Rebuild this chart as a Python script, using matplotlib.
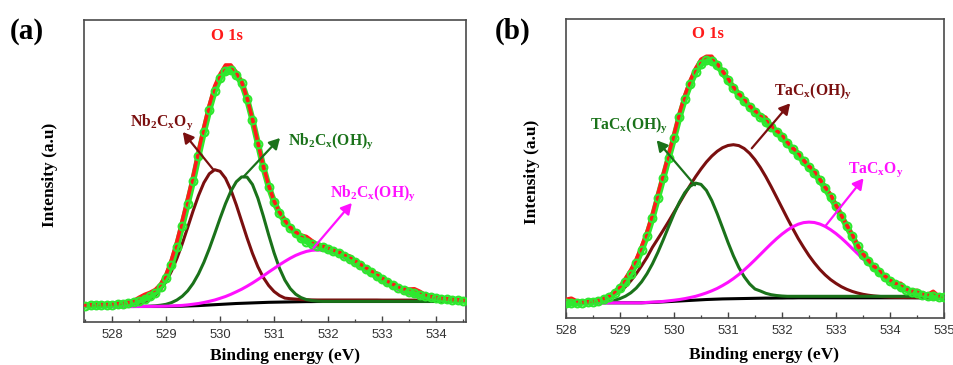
import numpy as np
import matplotlib
matplotlib.use("Agg")
import matplotlib.pyplot as plt
from matplotlib.ticker import MultipleLocator

plt.rcParams["font.family"] = ["Liberation Serif", "DejaVu Serif"]
plt.rcParams["mathtext.fontset"] = "custom"
plt.rcParams["mathtext.rm"] = "Liberation Serif"
plt.rcParams["mathtext.bf"] = "Liberation Serif:bold"
plt.rcParams["mathtext.it"] = "Liberation Serif:italic"

# ---- panel (a): Nb2C, O 1s ----
energy_a = np.round(np.arange(527.5, 534.51, 0.1), 1)

bg_a = [15.5] * 16 + [
    15.6, 15.7, 15.8, 16.0, 16.2, 16.4, 16.7, 17.0, 17.3, 17.6, 17.9, 18.2, 18.5, 18.7,
    18.9, 19.1, 19.3, 19.5, 19.7, 19.8, 19.9, 20.0, 20.1, 20.2, 20.3, 20.4, 20.4] + [20.5] * 28

nb_oxide_a = [
    15.5, 15.5, 15.5, 15.5, 15.5, 15.6, 15.7, 15.9, 16.2, 16.8,
    17.9, 19.7, 22.4, 26.5, 32.4, 40.4, 50.8, 63.6, 78.4, 94.6,
    111.1, 126.4, 139.3, 148.2, 152.3, 150.7, 143.7, 132.1, 117.2, 100.6,
    84.0, 68.6, 55.3, 44.6, 36.5, 30.5, 26.5, 23.9, 23.3, 22.9,
    22.4, 22.2, 22.1] + [22.0] * 12 + [21.9] * 10 + [21.8] * 6

nb_hydrox1_a = [15.5] * 10 + [
    15.6, 15.7, 15.9, 16.2, 16.8, 17.7, 19.4, 22.0, 25.8, 31.2,
    38.6, 48.1, 59.7, 73.3, 88.3, 103.7, 118.3, 130.8, 140.2, 145.1,
    144.9, 137.5, 123.8, 106.1, 87.1, 69.2, 53.8, 41.9, 33.4, 27.8,
    24.4, 22.4, 21.4, 20.9] + [20.6] * 27

nb_hydrox2_a = [15.5] * 10 + [
    15.5, 15.6, 15.6, 15.7, 15.7, 15.8, 16.0, 16.3, 16.6, 17.1,
    17.8, 18.5, 19.5, 20.7, 22.0, 23.7, 25.5, 27.7, 30.2, 32.8,
    35.8, 39.0, 42.5, 46.1, 49.9, 53.5, 57.2, 60.6, 63.8, 66.6,
    68.8, 70.6, 71.7, 72.0, 71.7, 70.7, 69.0, 66.9, 64.2, 61.1,
    57.8, 54.2, 50.7, 47.1, 43.7, 40.4, 37.4, 34.6, 32.2, 30.0,
    28.1, 26.6, 25.2, 24.2, 23.3, 22.6, 22.1, 21.6, 21.3, 21.1, 20.9]

fit_a = [
    16.5, 16.6, 16.7, 16.9, 17.1, 17.4, 17.8, 18.3, 19.0, 19.9,
    21.2, 23.0, 25.6, 29.5, 35.5, 44.5, 57.5, 75.5, 96.5, 118.5,
    141.0, 166.0, 190.0, 212.0, 231.0, 244.0, 251.0, 252.0, 247.0, 239.0,
    223.0, 202.0, 178.5, 155.0, 135.5, 120.0, 109.0, 100.5, 94.0, 89.0,
    84.0, 80.5, 78.0, 76.5, 75.0, 73.0, 71.0, 69.0, 66.5, 63.5,
    60.3, 57.0, 53.5, 50.0, 46.5, 43.0, 40.0, 37.0, 34.5, 32.3,
    30.4, 28.7, 27.2, 26.0, 25.0, 24.0, 23.2, 22.6, 22.0, 21.6, 21.3]

raw_a = [
    17.0, 17.1, 17.2, 17.4, 17.6, 17.9, 18.3, 18.8, 19.5, 21.4,
    24.7, 27.5, 29.6, 32.5, 38.0, 47.5, 62.5, 80.5, 101.5, 123.5,
    146.0, 171.0, 195.0, 217.0, 236.0, 248.0, 257.0, 257.0, 250.0, 240.0,
    224.0, 203.0, 179.5, 156.0, 136.5, 121.0, 110.0, 101.5, 95.0, 90.0,
    87.0, 85.5, 81.5, 77.5, 76.0, 74.0, 72.0, 70.0, 67.5, 66.0,
    61.3, 58.0, 54.5, 51.0, 49.0, 44.0, 41.0, 38.0, 35.5, 33.3,
    32.9, 33.2, 30.7, 27.5, 25.5, 24.5, 23.7, 23.1, 22.5, 22.1, 21.8]

# ---- panel (b): TaC, O 1s ----
energy_b = np.round(np.arange(528.0, 535.01, 0.1), 1)

bg_b = [15.5] * 15 + [
    15.7, 15.9, 16.1, 16.4, 16.7, 17.0, 17.3, 17.6, 17.9, 18.2,
    18.5, 18.8, 19.0, 19.2, 19.4, 19.5, 19.6, 19.7, 19.8, 19.9,
    20.0, 20.1, 20.2, 20.2, 20.3, 20.3, 20.4, 20.4, 20.5] + [20.5] * 27

ta_hydrox1_b = [15.5] * 5 + [
    15.8, 16.0, 16.4, 17.0, 18.1, 19.7, 22.1, 25.5, 30.2, 36.5,
    44.6, 54.4, 65.8, 78.4, 91.6, 104.4, 116.1, 125.6, 132.1, 135.2,
    133.9, 127.9, 117.7, 104.7, 90.4, 75.9, 62.5, 50.9, 41.6, 34.4,
    29.3, 27.3, 25.0, 23.6, 22.8, 22.3] + [22.0] * 30

ta_hydrox2_b = [
    15.8, 16.0, 16.2, 16.5, 16.9, 17.5, 18.3, 19.5, 21.2, 23.5,
    27.0, 31.5, 37.5, 44.5, 52.5, 61.0, 71.0, 79.4, 88.0, 96.8,
    106.0, 115.1, 124.3, 133.1, 141.6, 149.3, 156.3, 162.2, 167.0, 170.6,
    172.8, 173.6, 172.7, 169.8, 165.0, 158.6, 150.7, 141.6, 131.6, 121.1,
    110.5, 99.9, 89.7, 79.8, 71.0, 62.7, 55.4, 48.9, 43.4, 38.7,
    34.9, 31.6, 29.0, 26.9, 25.3, 24.0, 23.1, 22.4, 21.9, 21.5,
    21.2, 21.0, 20.9, 20.8, 20.8, 20.7, 20.7, 20.6, 20.6, 20.6, 20.6]

ta_oxide_b = [15.5] * 15 + [
    15.9, 16.2, 16.5, 16.9, 17.5, 18.1, 18.8, 19.7, 20.8, 22.0,
    23.6, 25.4, 27.5, 29.9, 32.8, 36.0, 39.7, 43.8, 48.4, 53.3,
    58.5, 63.9, 69.3, 74.6, 79.6, 84.2, 88.2, 91.6, 94.1, 95.7,
    96.2, 95.8, 94.3, 91.9, 88.6, 84.7, 80.2, 75.2, 69.9, 64.7,
    59.4, 54.3, 49.5, 45.0, 41.0, 37.4, 34.3, 31.6, 29.4, 27.5,
    26.0, 24.7, 23.8, 23.0, 22.4, 22.0]

fit_b = [
    15.0, 15.1, 15.3, 15.6, 16.0, 16.6, 17.5, 19.0, 21.5, 25.0,
    30.0, 36.0, 44.5, 55.0, 68.0, 82.5, 100.0, 120.0, 140.0, 160.0,
    180.0, 201.0, 219.0, 234.0, 246.0, 254.0, 258.0, 257.5, 253.0, 246.0,
    238.0, 230.5, 223.5, 217.0, 211.5, 206.5, 201.5, 196.5, 191.5, 186.5,
    181.0, 175.0, 169.0, 163.0, 157.0, 151.0, 145.0, 138.0, 130.0, 121.0,
    112.0, 102.0, 92.0, 82.0, 72.0, 63.5, 57.0, 51.0, 46.0, 41.5,
    37.5, 34.0, 31.0, 28.5, 26.5, 25.0, 23.8, 22.8, 22.0, 21.5, 21.0]

raw_b = [
    19.0, 20.1, 17.3, 16.1, 16.5, 17.1, 18.0, 19.8, 22.5, 26.5,
    32.0, 40.0, 48.5, 59.0, 72.0, 86.5, 104.0, 124.0, 144.0, 164.0,
    184.0, 205.0, 223.0, 238.0, 250.0, 259.0, 262.0, 262.0, 255.0, 247.0,
    240.0, 231.5, 224.5, 220.0, 212.5, 207.5, 203.5, 201.0, 193.0, 187.5,
    184.0, 176.0, 170.0, 166.0, 158.0, 152.0, 148.0, 139.0, 131.0, 124.0,
    113.0, 103.0, 93.0, 84.0, 73.0, 64.5, 58.0, 52.0, 49.0, 42.5,
    38.5, 35.0, 35.0, 29.5, 27.5, 28.0, 24.8, 23.8, 27.0, 22.5, 22.0]

MAROON = "#7a0f0f"
DKGREEN = "#1a721a"
MAGENTA = "#ff10ff"
LIME = "#2ee82e"
RED = "#ff1a1a"


def draw_panel(ax, energy, bg, comps, raw, fit, xlim, ylim, ticks):
    ax.plot(energy, bg, color="black", lw=2.2, zorder=2)
    for vals, col in comps:
        ax.plot(energy, vals, color=col, lw=2.2, zorder=3)
    # fitted envelope: lime band of circles, raw data in red through it
    ax.plot(energy, fit, color=LIME, lw=4.5, zorder=3.8)
    ax.plot(energy, raw, color=RED, lw=2.6, zorder=4)
    ax.plot(energy, fit, ls="none", marker="o", ms=5.6, mfc="none",
            mec=LIME, mew=1.5, zorder=5)
    ax.set_xlim(*xlim)
    ax.set_ylim(*ylim)
    ax.set_xticks(ticks)
    ax.xaxis.set_minor_locator(MultipleLocator(0.5))
    ax.set_yticks([])
    ax.tick_params(axis="x", which="major", direction="in", length=4.5, width=1.0,
                   color="#444444", labelsize=9.4, pad=5.0, labelcolor="#333333",
                   labelfontfamily="Liberation Sans")
    ax.tick_params(axis="x", which="minor", direction="in", length=2.5, width=0.9,
                   color="#444444")
    for sp in ax.spines.values():
        sp.set_color("#4a4a4a")
        sp.set_linewidth(1.2)
    ax.set_xlabel("Binding energy (eV)", fontsize=12.5, fontweight="bold")
    ax.set_ylabel("Intensity (a.u)", fontsize=12.5, fontweight="bold")


def arrow(ax, start, tip, col):
    ax.annotate("", xy=tip, xytext=start,
                arrowprops=dict(arrowstyle="-|>,head_length=0.45,head_width=0.25",
                                color=col, lw=1.6, shrinkA=0, shrinkB=0,
                                mutation_scale=14), zorder=6)


fig = plt.figure(figsize=(9.54, 3.65), dpi=100)

ax_a = fig.add_axes([0.0881, 0.1178, 0.4004, 0.8274])
draw_panel(ax_a, energy_a, bg_a,
           [(nb_oxide_a, MAROON), (nb_hydrox1_a, DKGREEN), (nb_hydrox2_a, MAGENTA)],
           raw_a, fit_a, (527.48, 534.556), (0, 302), range(528, 535))
ax_a.xaxis.set_label_coords(0.526, -0.086)
ax_a.yaxis.set_label_coords(-0.067, 0.487)
ax_a.text(530.13, 286, "O 1s", color=RED, fontsize=12, fontweight="bold",
          ha="center", va="center")
ax_a.text(528.33, 200, r"$\mathbf{Nb_2C_xO_y}$", color=MAROON, fontsize=11.3,
          ha="left", va="center")
ax_a.text(531.26, 181, r"$\mathbf{Nb_2C_x(OH)_y}$", color=DKGREEN, fontsize=11.3,
          ha="left", va="center")
ax_a.text(532.04, 128.5, r"$\mathbf{Nb_2C_x(OH)_y}$", color=MAGENTA, fontsize=11.3,
          ha="left", va="center")
arrow(ax_a, (529.88, 152), (529.31, 190), MAROON)
arrow(ax_a, (530.43, 145), (531.11, 184), DKGREEN)
arrow(ax_a, (531.73, 74), (532.44, 119), MAGENTA)

ax_b = fig.add_axes([0.5933, 0.1279, 0.3962, 0.8201])
draw_panel(ax_b, energy_b, bg_b,
           [(ta_hydrox2_b, MAROON), (ta_hydrox1_b, DKGREEN), (ta_oxide_b, MAGENTA)],
           raw_b, fit_b, (528.0, 535.0), (0, 299.3), range(528, 536))
ax_b.xaxis.set_label_coords(0.525, -0.096)
ax_b.yaxis.set_label_coords(-0.0675, 0.489)
ax_b.text(530.63, 284.3, "O 1s", color=RED, fontsize=12, fontweight="bold",
          ha="center", va="center")
ax_b.text(528.44, 193.3, r"$\mathbf{TaC_x(OH)_y}$", color=DKGREEN, fontsize=11.3,
          ha="left", va="center")
ax_b.text(531.85, 226.8, r"$\mathbf{TaC_x(OH)_y}$", color=MAROON, fontsize=11.3,
          ha="left", va="center")
ax_b.text(533.23, 148.3, r"$\mathbf{TaC_xO_y}$", color=MAGENTA, fontsize=11.3,
          ha="left", va="center")
arrow(ax_b, (530.39, 133), (529.68, 178), DKGREEN)
arrow(ax_b, (531.44, 170), (532.15, 215), MAROON)
arrow(ax_b, (532.8, 92), (533.51, 140), MAGENTA)

fig.text(0.0105, 0.9137, "(a)", fontsize=21, fontweight="bold", ha="left", va="center")
fig.text(0.5189, 0.9137, "(b)", fontsize=21, fontweight="bold", ha="left", va="center")

fig.savefig("out.png", dpi=100)
